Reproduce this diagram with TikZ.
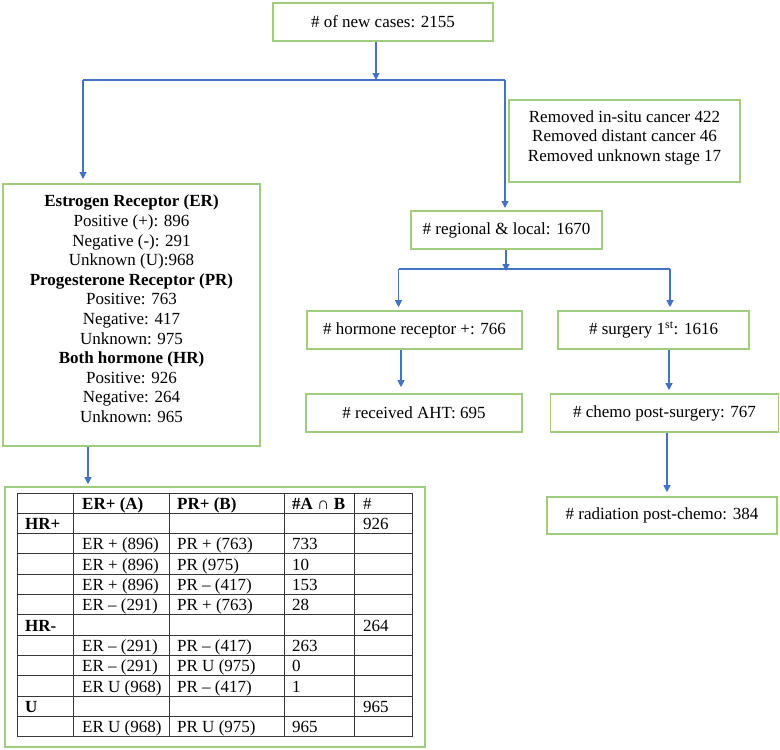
\documentclass[tikz,border=0pt]{standalone}
\usepackage{fontspec}
\setmainfont{Liberation Serif}
\usetikzlibrary{arrows.meta}
\definecolor{boxgreen}{RGB}{160,205,125}
\definecolor{arrowblue}{RGB}{68,114,196}
\definecolor{tabline}{RGB}{55,55,55}
\tikzset{
  box/.style={draw=boxgreen, line width=1.6pt, fill=white, inner sep=0pt},
  conn/.style={draw=arrowblue, line width=1.1pt},
  arr/.style={conn, -{Triangle[width=7pt,length=7pt]}},
  cell/.style={anchor=base west, inner sep=0pt},
  gridline/.style={draw=tabline, line width=1pt},
}
\newcommand\trow[6]{%
  \node[cell] (r#1c1) at (25,{493+(#1+0.5)*20.33+6}) {#2};
  \node[cell] (r#1c2) at (82,{493+(#1+0.5)*20.33+6}) {#3};
  \node[cell] (r#1c3) at (177,{493+(#1+0.5)*20.33+6}) {#4};
  \node[cell] (r#1c4) at (292,{493+(#1+0.5)*20.33+6}) {#5};
  \node[cell] (r#1c5) at (363,{493+(#1+0.5)*20.33+6}) {#6};
}
\begin{document}
\begin{tikzpicture}[x=1pt,y=-1pt, font=\fontsize{17}{19.6}\selectfont]
\useasboundingbox (0,0) rectangle (780,750);

% boxes
\node[box, minimum width=220pt, minimum height=38pt] (top) at (383,22) {\# of new cases: 2155};
\node[box, minimum width=231pt, minimum height=82pt, align=center] (removed) at (624.5,141)
  {Removed in-situ cancer 422\\Removed distant cancer 46\\Removed unknown stage 17\\[-9pt]};
\node[box, minimum width=257pt, minimum height=262pt] (left) at (131.5,315) {};
\node[align=center, inner sep=0pt] (lefttext) at (131.5,309)
  {\textbf{Estrogen Receptor (ER)}\\Positive (+): 896\\Negative (-): 291\\Unknown (U):968\\
   \textbf{Progesterone Receptor (PR)}\\Positive: 763\\Negative: 417\\Unknown: 975\\
   \textbf{Both hormone (HR)}\\Positive: 926\\Negative: 264\\Unknown: 965};
\node[box, minimum width=191pt, minimum height=38pt] (regional) at (506.5,230) {\# regional \& local: 1670};
\node[box, minimum width=215pt, minimum height=38pt] (hormone) at (414.5,330) {\# hormone receptor +: 766};
\node[box, minimum width=191pt, minimum height=38pt] (surgery) at (653.5,330) {\# surgery 1\textsuperscript{st}: 1616};
\node[box, minimum width=216pt, minimum height=38pt] (aht) at (414,413) {\# received AHT: 695};
\node[box, minimum width=228pt, minimum height=38pt] (chemo) at (664.5,413) {\# chemo post-surgery: 767};
\node[box, minimum width=230pt, minimum height=37pt] (radiation) at (662,515.5) {\# radiation post-chemo: 384};
\node[box, minimum width=420pt, minimum height=260pt] (tbl) at (215,617) {};

% connectors
\coordinate (j0) at (376,80);
\coordinate (jL) at (83,80);
\coordinate (jR) at (505,80);
\coordinate (aL) at (83,179);
\coordinate (aR) at (505,208);
\draw[arr] (top.south -| j0) -- (j0);
\draw[conn] (jL) -- (jR);
\draw[arr] (jL) -- (aL);
\draw[arr] (jR) -- (aR);

\coordinate (k0) at (506,269);
\coordinate (kL) at (398.5,269);
\coordinate (kR) at (670,269);
\draw[arr] (regional.south -| k0) -- ([yshift=-2pt]k0);
\draw[conn] (kL) -- (kR);
\draw[arr, shorten >=3pt] (kL) -- (kL |- hormone.north);
\draw[arr, shorten >=3pt] (kR) -- (kR |- surgery.north);

\coordinate (hx) at (401,0);
\coordinate (sx) at (669,0);
\coordinate (rx) at (667,0);
\coordinate (tx) at (88,0);
\draw[arr, shorten >=6pt] (hormone.south -| hx) -- (aht.north -| hx);
\draw[arr, shorten >=3pt] (surgery.south -| sx) -- (chemo.north -| sx);
\draw[arr, shorten >=4pt] (chemo.south -| rx) -- (radiation.north -| rx);
\draw[arr, shorten >=2pt] (left.south -| tx) -- (tbl.north -| tx);

% table grid
\foreach \i in {0,...,12} \draw[gridline] (17,{493+\i*20.33}) -- (412,{493+\i*20.33});
\foreach \x in {17,73,169,284,354,412} \draw[gridline] (\x,493) -- (\x,737);

% table text
\trow{0}{}{\textbf{ER+ (A)}}{\textbf{PR+ (B)}}{\textbf{\#A} ∩ \textbf{B}}{\#}
\trow{1}{\textbf{HR+}}{}{}{}{926}
\trow{2}{}{ER + (896)}{PR + (763)}{733}{}
\trow{3}{}{ER + (896)}{PR (975)}{10}{}
\trow{4}{}{ER + (896)}{PR – (417)}{153}{}
\trow{5}{}{ER – (291)}{PR + (763)}{28}{}
\trow{6}{\textbf{HR-}}{}{}{}{264}
\trow{7}{}{ER – (291)}{PR – (417)}{263}{}
\trow{8}{}{ER – (291)}{PR U (975)}{0}{}
\trow{9}{}{ER U (968)}{PR – (417)}{1}{}
\trow{10}{\textbf{U}}{}{}{}{965}
\trow{11}{}{ER U (968)}{PR U (975)}{965}{}
\end{tikzpicture}
\end{document}
